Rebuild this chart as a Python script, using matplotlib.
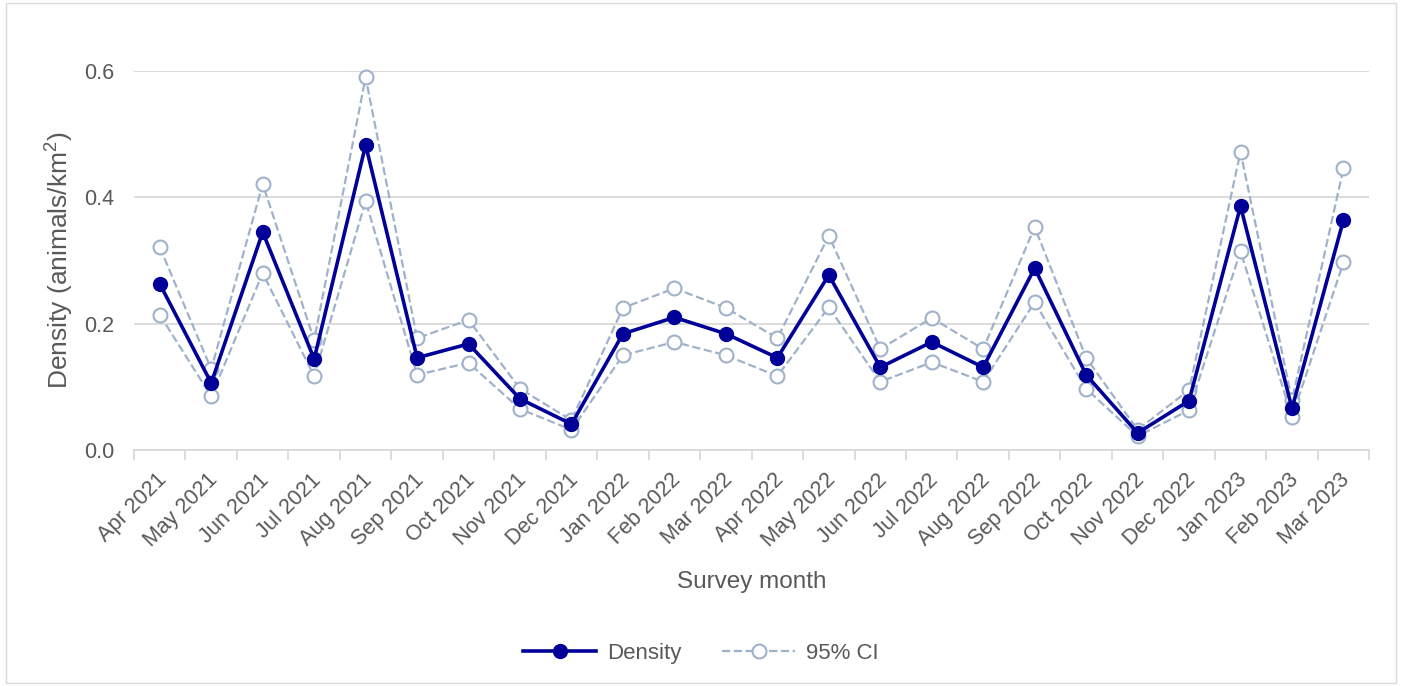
import numpy as np
import matplotlib
matplotlib.use("Agg")
import matplotlib.pyplot as plt
from matplotlib.transforms import ScaledTranslation

plt.rcParams['font.family'] = ['Liberation Sans', 'DejaVu Sans']
plt.rcParams['mathtext.fontset'] = 'custom'
plt.rcParams['mathtext.rm'] = 'Liberation Sans'
plt.rcParams['mathtext.default'] = 'regular'

# Monthly survey estimates
months = ["Apr 2021", "May 2021", "Jun 2021", "Jul 2021", "Aug 2021", "Sep 2021",
          "Oct 2021", "Nov 2021", "Dec 2021", "Jan 2022", "Feb 2022", "Mar 2022",
          "Apr 2022", "May 2022", "Jun 2022", "Jul 2022", "Aug 2022", "Sep 2022",
          "Oct 2022", "Nov 2022", "Dec 2022", "Jan 2023", "Feb 2023", "Mar 2023"]
density = [0.263, 0.106, 0.345, 0.144, 0.483, 0.146, 0.168, 0.081, 0.041, 0.184,
           0.210, 0.184, 0.146, 0.277, 0.131, 0.171, 0.131, 0.288, 0.119, 0.027,
           0.078, 0.386, 0.066, 0.364]
ci_upper = [0.321, 0.128, 0.421, 0.174, 0.590, 0.177, 0.206, 0.097, 0.047, 0.225,
            0.256, 0.225, 0.177, 0.339, 0.160, 0.209, 0.160, 0.353, 0.146, 0.032,
            0.095, 0.472, 0.079, 0.446]
ci_lower = [0.214, 0.085, 0.280, 0.117, 0.394, 0.119, 0.138, 0.065, 0.032, 0.150,
            0.171, 0.150, 0.117, 0.226, 0.108, 0.139, 0.108, 0.234, 0.097, 0.022,
            0.063, 0.315, 0.052, 0.297]

dark = "#000099"
ci_col = "#A0B1CA"
grey = "#595959"

fig = plt.figure(figsize=(14.02, 6.86), dpi=100)
ax = fig.add_axes([0.0956, 0.344, 0.881, 0.5525])

x = np.arange(len(months))
ax.plot(x, ci_upper, color=ci_col, ls="--", lw=1.6, marker="o", ms=10,
        mfc="white", mec=ci_col, mew=1.5, label="95% CI", clip_on=False, zorder=3)
ax.plot(x, ci_lower, color=ci_col, ls="--", lw=1.6, marker="o", ms=10,
        mfc="white", mec=ci_col, mew=1.5, clip_on=False, zorder=3)
ax.plot(x, density, color=dark, lw=2.6, marker="o", ms=10, label="Density",
        clip_on=False, zorder=4)

ax.set_xlim(-0.5, len(months) - 0.5)
ax.set_ylim(0, 0.6)
ax.set_yticks([0, 0.2, 0.4, 0.6])
ax.set_yticklabels(["0.0", "0.2", "0.4", "0.6"])
ax.yaxis.grid(True, color="#D9D9D9", lw=1.3)
ax.set_axisbelow(True)

ax.set_xticks(x)
ax.set_xticklabels(months, rotation=45, ha="right", rotation_mode="anchor")
ax.set_xticks(np.arange(-0.5, len(months)), minor=True)
ax.tick_params(axis="x", which="major", length=0, pad=14, labelsize=15.5, colors=grey)
ax.tick_params(axis="x", which="minor", length=7, width=1.3, color="#D9D9D9")
ax.tick_params(axis="y", length=0, pad=14, labelsize=15.5, colors=grey)

# nudge the rotated month labels a little to the left
shift = ScaledTranslation(-4 / 100, 0, fig.dpi_scale_trans)
for lab in ax.get_xticklabels():
    lab.set_transform(lab.get_transform() + shift)

for s in ["top", "right", "left"]:
    ax.spines[s].set_visible(False)
ax.spines["bottom"].set_color("#D9D9D9")
ax.spines["bottom"].set_linewidth(1.3)

ax.set_ylabel("Density (animals/km$^{2}$)", fontsize=19, color=grey, labelpad=6)
ax.set_xlabel("Survey month", fontsize=17.5, color=grey, labelpad=14)

h, l = ax.get_legend_handles_labels()
fig.legend([h[1], h[0]], [l[1], l[0]], loc="center", bbox_to_anchor=(0.5, 0.048),
           ncol=2, frameon=False, fontsize=16, labelcolor=grey,
           handlelength=3.3, handletextpad=0.5, columnspacing=1.8)

border = plt.Rectangle((0.004, 0.004), 0.992, 0.992, transform=fig.transFigure,
                       fill=False, ec="#D9D9D9", lw=1)
fig.patches.append(border)

fig.savefig("out.png", dpi=100, facecolor="white")
